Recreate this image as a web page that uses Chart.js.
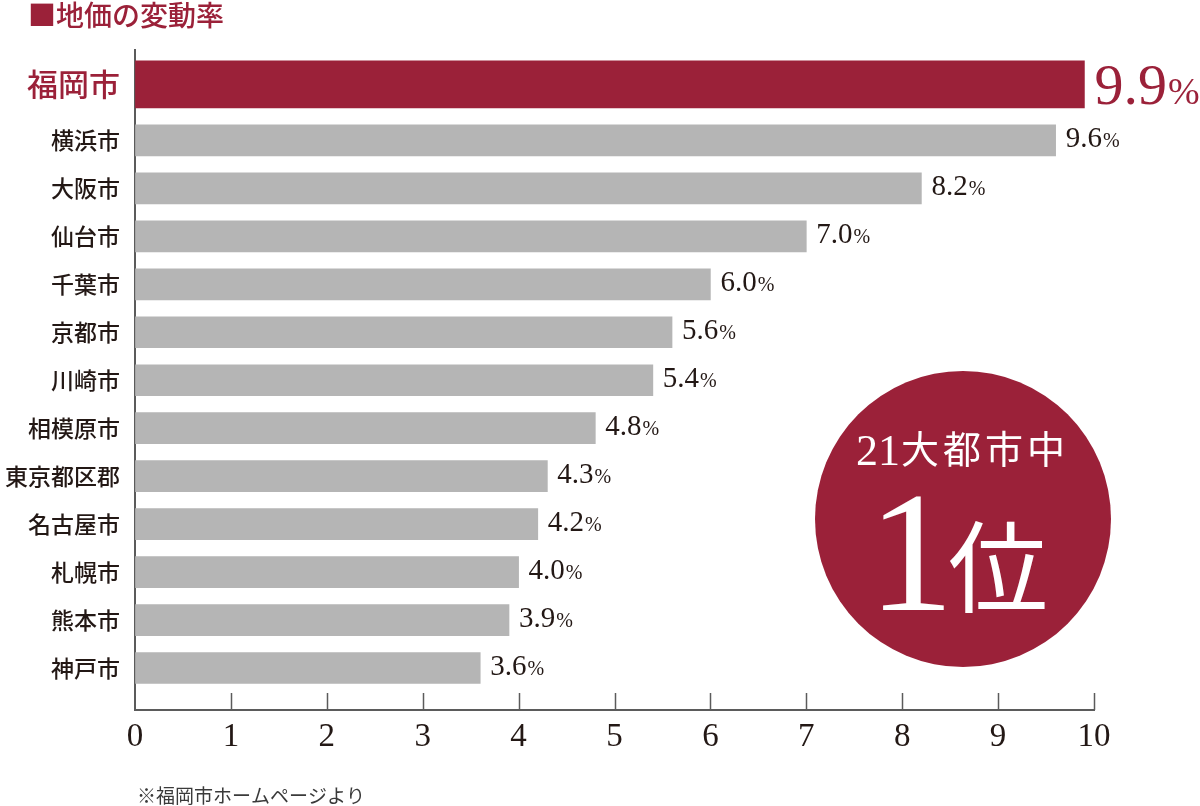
<!DOCTYPE html>
<html>
<head>
<meta charset="utf-8">
<script src="https://cdn.jsdelivr.net/npm/chart.js@4"></script>
<style>
html,body{margin:0;padding:0;background:#fff;}
#wrap{width:1200px;height:806px;position:relative;}
</style>
</head>
<body>
<div id="wrap"><canvas id="c" width="1200" height="806"></canvas></div>
<script>
// ---- data ----
const categories = ['福岡市','横浜市','大阪市','仙台市','千葉市','京都市','川崎市','相模原市','東京都区郡','名古屋市','札幌市','熊本市','神戸市'];
const values = [9.9, 9.6, 8.2, 7.0, 6.0, 5.6, 5.4, 4.8, 4.3, 4.2, 4.0, 3.9, 3.6];
const xTickValues = [0,1,2,3,4,5,6,7,8,9,10];
const titleText = '■地価の変動率';
const noteText = '※福岡市ホームページより';
const badgeNumber = '21';
const badgeWords = ['大','都','市','中'];
const rankNumber = '1';
const rankWord = '位';
const unit = '%';

// ---- style ----
const RED = '#9b2139';
const GRAY = '#b5b5b5';
const INK = '#231815';
const AXIS = '#5b5b5b';
const SERIF = '"Liberation Serif", "DejaVu Serif", serif';
const CJK = '"Noto Sans CJK JP", sans-serif';

// row layout: first (highlighted) row sits a bit further above the rest
const rowPos = categories.map((c, i) => i === 0 ? -56/48 : i - 1);

const deco = {
  id: 'deco',
  afterDraw(chart) {
    const ctx = chart.ctx;
    const xs = chart.scales.x;
    const area = chart.chartArea;
    ctx.save();
    // inner tick marks
    ctx.strokeStyle = AXIS;
    ctx.lineWidth = 1.5;
    xTickValues.forEach(v => {
      if (v === 0) return;
      const px = Math.round(xs.getPixelForValue(v)) + 0.5;
      ctx.beginPath();
      ctx.moveTo(px, area.bottom);
      ctx.lineTo(px, area.bottom - 17);
      ctx.stroke();
    });
    // value labels
    chart.data.datasets.forEach((ds, di) => {
      const meta = chart.getDatasetMeta(di);
      meta.data.forEach((bar, j) => {
        const idx = di === 0 ? 0 : j + 1;
        const big = idx === 0;
        const num = values[idx].toFixed(1);
        ctx.fillStyle = big ? RED : INK;
        ctx.textBaseline = 'alphabetic';
        ctx.textAlign = 'left';
        ctx.font = (big ? 58 : 29) + 'px ' + SERIF;
        const x = bar.x + 10;
        const y = bar.y + (big ? 20 : 7);
        ctx.fillText(num, x, y);
        const w = ctx.measureText(num).width;
        ctx.font = (big ? 38 : 20) + 'px ' + SERIF;
        ctx.fillText(unit, x + w + 1, y);
      });
    });
    // badge
    ctx.fillStyle = RED;
    ctx.beginPath();
    ctx.arc(963, 519, 148, 0, Math.PI * 2);
    ctx.fill();
    ctx.fillStyle = '#ffffff';
    ctx.textBaseline = 'alphabetic';
    ctx.textAlign = 'left';
    ctx.font = '44px ' + SERIF;
    ctx.fillText(badgeNumber, 856, 465);
    ctx.font = '38px ' + CJK;
    ctx.textBaseline = 'middle';
    badgeWords.forEach((ch, i) => {
      ctx.fillText(ch, 901 + i * 42, 449);
    });
    ctx.textBaseline = 'alphabetic';
    ctx.textAlign = 'center';
    ctx.font = '172px ' + SERIF;
    ctx.fillText(rankNumber, 911, 610);
    ctx.font = '100px ' + CJK;
    ctx.textBaseline = 'middle';
    ctx.fillText(rankWord, 998, 567);
    // title & note
    ctx.textAlign = 'left';
    ctx.textBaseline = 'middle';
    ctx.fillStyle = RED;
    ctx.font = '500 28px ' + CJK;
    ctx.fillText(titleText, 28, 15);
    ctx.fillStyle = '#3a3a3a';
    ctx.font = '19px ' + CJK;
    ctx.fillText(noteText, 137, 796);
    ctx.restore();
  }
};

new Chart(document.getElementById('c'), {
  type: 'bar',
  data: {
    datasets: [
      {
        data: [{ x: values[0], y: rowPos[0] }],
        backgroundColor: RED,
        barThickness: 47,
        grouped: false
      },
      {
        data: values.slice(1).map((v, i) => ({ x: v, y: rowPos[i + 1] })),
        backgroundColor: GRAY,
        barThickness: 31,
        grouped: false
      }
    ]
  },
  options: {
    indexAxis: 'y',
    responsive: false,
    devicePixelRatio: 1,
    animation: false,
    layout: { padding: { top: 50, right: 106, bottom: 46, left: 0 } },
    plugins: { legend: { display: false }, title: { display: false }, tooltip: { enabled: false } },
    scales: {
      x: {
        type: 'linear',
        position: 'bottom',
        min: 0,
        max: 10,
        offset: false,
        afterFit(s) { s.height = 50; },
        afterBuildTicks(s) { s.ticks = xTickValues.map(v => ({ value: v })); },
        grid: { display: true, offset: false, drawOnChartArea: false, drawTicks: false, color: 'rgba(0,0,0,0)' },
        border: { display: true, color: AXIS, width: 2 },
        ticks: { font: { family: SERIF, size: 33 }, color: INK, padding: 8, autoSkip: false, maxRotation: 0 }
      },
      y: {
        type: 'linear',
        reverse: true,
        min: -1.885,
        max: 11.875,
        offset: false,
        afterFit(s) { s.width = 135; },
        afterBuildTicks(s) { s.ticks = rowPos.map(v => ({ value: v })); },
        grid: { display: true, offset: false, drawOnChartArea: false, drawTicks: false, color: 'rgba(0,0,0,0)' },
        border: { display: true, color: AXIS, width: 2 },
        ticks: {
          autoSkip: false,
          padding: 15,
          callback: (v, i) => categories[i],
          color: ctx => ctx.index === 0 ? RED : INK,
          font: ctx => ctx.index === 0 ? { family: CJK, size: 31, weight: '500' } : { family: CJK, size: 23, weight: '500' }
        }
      }
    }
  },
  plugins: [deco]
});
</script>
</body>
</html>
